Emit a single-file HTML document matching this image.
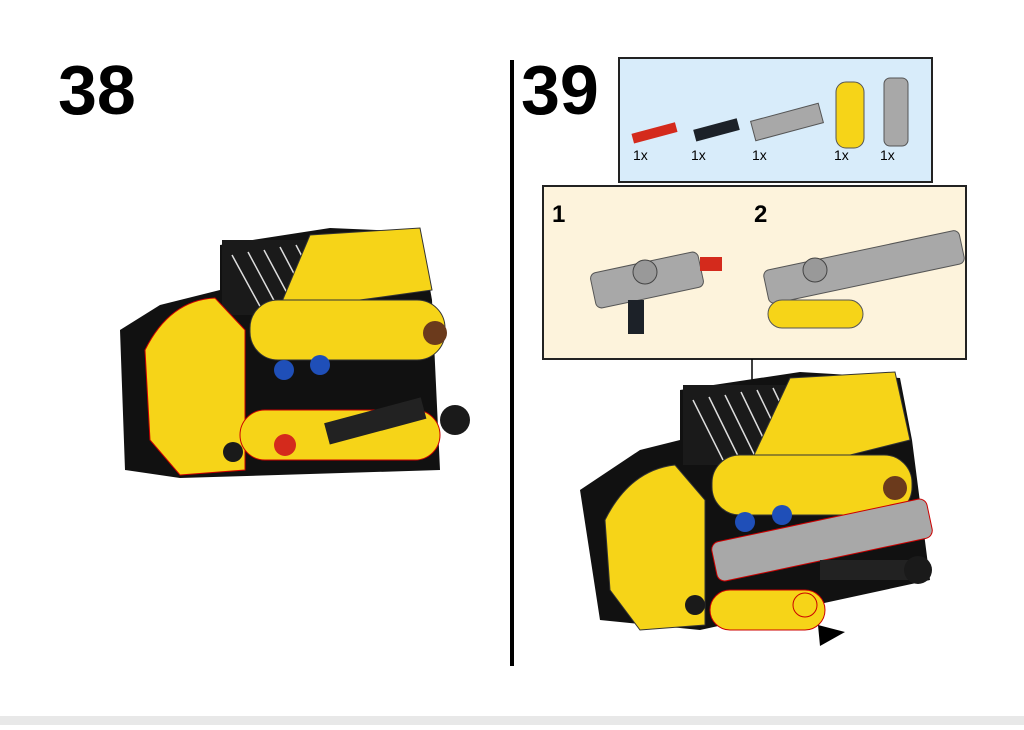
<!DOCTYPE html>
<html><head><meta charset="utf-8"><style>
body{margin:0;width:1024px;height:725px;background:#fff;overflow:hidden;font-family:"Liberation Sans",sans-serif}
</style></head><body>
<svg width="1024" height="725" viewBox="0 0 1024 725" xmlns="http://www.w3.org/2000/svg" font-family="Liberation Sans, sans-serif">
<rect x="0" y="716" width="1024" height="9" fill="#e8e8e8"/>
<text x="58" y="114" font-size="70" font-weight="bold">38</text>
<text x="521" y="114" font-size="70" font-weight="bold">39</text>
<line x1="512" y1="60" x2="512" y2="666" stroke="#000" stroke-width="4"/>
<rect x="619" y="58" width="313" height="124" fill="#d8ecfa" stroke="#222" stroke-width="2"/>
<g font-size="14"><text x="633" y="160">1x</text><text x="691" y="160">1x</text><text x="752" y="160">1x</text><text x="834" y="160">1x</text><text x="880" y="160">1x</text></g>
<rect x="632" y="128" width="45" height="10" fill="#d42a1c" transform="rotate(-15 654 133)"/>
<rect x="694" y="124" width="45" height="12" fill="#1c2128" transform="rotate(-15 716 130)"/>
<rect x="752" y="112" width="70" height="20" fill="#a8a8a8" stroke="#555" transform="rotate(-15 787 122)"/>
<rect x="836" y="82" width="28" height="66" rx="10" fill="#f6d418" stroke="#555"/>
<rect x="884" y="78" width="24" height="68" rx="6" fill="#a8a8a8" stroke="#555"/>
<rect x="543" y="186" width="423" height="173" fill="#fdf3dc" stroke="#222" stroke-width="2"/>
<text x="552" y="222" font-size="24" font-weight="bold">1</text>
<text x="754" y="222" font-size="24" font-weight="bold">2</text>
<rect x="592" y="262" width="110" height="36" rx="6" fill="#a8a8a8" stroke="#555" transform="rotate(-12 647 280)"/>
<rect x="700" y="257" width="22" height="14" fill="#d42a1c"/>
<rect x="628" y="300" width="16" height="34" fill="#1c2128"/>
<circle cx="645" cy="272" r="12" fill="#999" stroke="#444"/>
<rect x="764" y="250" width="200" height="34" rx="6" fill="#a8a8a8" stroke="#555" transform="rotate(-12 864 267)"/>
<rect x="768" y="300" width="95" height="28" rx="14" fill="#f6d418" stroke="#555"/>
<circle cx="815" cy="270" r="12" fill="#999" stroke="#444"/>
<line x1="752" y1="359" x2="752" y2="415" stroke="#000" stroke-width="1.5"/>
<g>
<path d="M220 245 L330 228 L420 232 L432 300 L440 470 L180 478 L125 470 L120 330 L160 305 L220 290 Z" fill="#111"/>
<rect x="222" y="240" width="135" height="75" fill="#1a1a1a"/>
<g stroke="#ddd" stroke-width="1.5"><line x1="232" y1="255" x2="262" y2="310"/><line x1="248" y1="252" x2="278" y2="308"/><line x1="264" y1="250" x2="294" y2="306"/><line x1="280" y1="247" x2="310" y2="304"/><line x1="296" y1="245" x2="326" y2="302"/><line x1="312" y1="243" x2="342" y2="300"/></g>
<path d="M310 235 L420 228 L432 290 L360 300 L355 325 L270 330 Z" fill="#f6d418" stroke="#333"/>
<path d="M145 350 Q170 300 215 298 L245 330 L245 470 L180 475 L150 440 Z" fill="#f6d418" stroke="#c00"/>
<rect x="250" y="300" width="195" height="60" rx="28" fill="#f6d418" stroke="#333"/>
<rect x="240" y="410" width="200" height="50" rx="25" fill="#f6d418" stroke="#c00"/>
<circle cx="284" cy="370" r="10" fill="#1f4fb8"/><circle cx="320" cy="365" r="10" fill="#1f4fb8"/>
<circle cx="435" cy="333" r="12" fill="#6b3a1c"/>
<circle cx="285" cy="445" r="11" fill="#d42a1c"/>
<rect x="325" y="410" width="100" height="22" fill="#222" transform="rotate(-15 375 420)"/>
<circle cx="455" cy="420" r="15" fill="#1a1a1a"/>
<circle cx="233" cy="452" r="10" fill="#1a1a1a"/>
</g>
<g>
<path d="M680 390 L800 372 L900 378 L912 440 L930 580 L700 630 L600 620 L580 490 L640 450 L680 440 Z" fill="#111"/>
<rect x="683" y="385" width="140" height="80" fill="#1a1a1a"/>
<g stroke="#ddd" stroke-width="1.5"><line x1="693" y1="400" x2="723" y2="460"/><line x1="709" y1="397" x2="739" y2="458"/><line x1="725" y1="395" x2="755" y2="456"/><line x1="741" y1="392" x2="771" y2="454"/><line x1="757" y1="390" x2="787" y2="452"/><line x1="773" y1="388" x2="803" y2="450"/></g>
<path d="M790 378 L895 372 L910 440 L830 460 L825 480 L740 485 Z" fill="#f6d418" stroke="#333"/>
<path d="M605 520 Q630 470 675 465 L705 500 L705 625 L640 630 L610 590 Z" fill="#f6d418" stroke="#333"/>
<rect x="712" y="455" width="200" height="60" rx="28" fill="#f6d418" stroke="#333"/>
<circle cx="745" cy="522" r="10" fill="#1f4fb8"/><circle cx="782" cy="515" r="10" fill="#1f4fb8"/>
<circle cx="895" cy="488" r="12" fill="#6b3a1c"/>
<rect x="712" y="520" width="220" height="40" rx="8" fill="#a8a8a8" stroke="#c00" transform="rotate(-12 822 540)"/>
<rect x="710" y="590" width="115" height="40" rx="20" fill="#f6d418" stroke="#c00"/>
<circle cx="805" cy="605" r="12" fill="#f6d418" stroke="#c00"/>
<rect x="820" y="560" width="90" height="20" fill="#222"/>
<circle cx="918" cy="570" r="14" fill="#1a1a1a"/>
<circle cx="695" cy="605" r="10" fill="#1a1a1a"/>
<path d="M818 625 L845 632 L820 646 Z" fill="#000"/>
</g>
</svg>
</body></html>
